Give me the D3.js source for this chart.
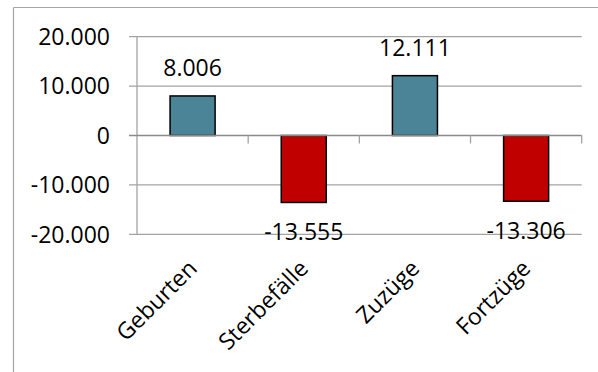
<!DOCTYPE html>
<html><head><meta charset="utf-8">
<script src="https://cdn.jsdelivr.net/npm/d3@7"></script>
<style>body{margin:0;background:#fff}svg{display:block}</style>
</head><body>
<script>
const categories = ["Geburten", "Sterbefälle", "Zuzüge", "Fortzüge"];
const values = [8006, -13555, 12111, -13306];
const valueLabels = ["8.006", "-13.555", "12.111", "-13.306"];
const yTicks = [-20000, -10000, 0, 10000, 20000];
const yTickLabels = ["-20.000", "-10.000", "0", "10.000", "20.000"];

const W = 598, H = 372;
const font = "'Open Sans', sans-serif";
const svg = d3.select("body").append("svg").attr("width", W).attr("height", H);

// outer frame (top + left)
svg.append("line").attr("x1", 13.5).attr("x2", W).attr("y1", 7.5).attr("y2", 7.5).attr("stroke", "#a6a6a6").attr("stroke-width", 1.2);
svg.append("line").attr("x1", 13.5).attr("x2", 13.5).attr("y1", 7.5).attr("y2", H).attr("stroke", "#a6a6a6").attr("stroke-width", 1.2);

const left = 137, right = 581.7;
const x = d3.scaleBand().domain(categories).range([left, right]).paddingInner(0).paddingOuter(0);
const y = d3.scaleLinear().domain([-20000, 20000]).range([234.3, 36.7]);

// gridlines
svg.append("g").selectAll("line").data(yTicks.filter(d => d !== 0)).join("line")
  .attr("x1", left - 8).attr("x2", right)
  .attr("y1", d => y(d)).attr("y2", d => y(d))
  .attr("stroke", "#a3a3a3").attr("stroke-width", 1.3);

// y axis line
svg.append("line").attr("x1", left).attr("x2", left).attr("y1", y(20000)).attr("y2", y(-20000))
  .attr("stroke", "#a3a3a3").attr("stroke-width", 1.3);

// y tick labels
svg.append("g").selectAll("text").data(yTicks).join("text")
  .attr("x", 110).attr("y", d => y(d)).attr("dy", "0.36em")
  .attr("text-anchor", "end").attr("font-family", font).attr("font-size", 23).attr("fill", "#000")
  .text((d, i) => yTickLabels[i]);

// bars
const bw = x.bandwidth() * 0.405;
svg.append("g").selectAll("rect").data(values).join("rect")
  .attr("x", (d, i) => x(categories[i]) + x.bandwidth() / 2 - bw / 2)
  .attr("width", bw)
  .attr("y", d => y(Math.max(0, d)))
  .attr("height", d => Math.abs(y(d) - y(0)))
  .attr("fill", d => d >= 0 ? "#4a8496" : "#c00000")
  .attr("stroke", "#000").attr("stroke-width", 1.5);

// zero axis + category ticks
svg.append("line").attr("x1", left - 8).attr("x2", right).attr("y1", y(0)).attr("y2", y(0))
  .attr("stroke", "#8a8a8a").attr("stroke-width", 1.5);
svg.append("g").selectAll("line").data(categories).join("line")
  .attr("x1", d => x(d) + x.bandwidth()).attr("x2", d => x(d) + x.bandwidth())
  .attr("y1", y(0)).attr("y2", y(0) + 8)
  .attr("stroke", "#a3a3a3").attr("stroke-width", 1.3);

// value labels
svg.append("g").selectAll("text").data(values).join("text")
  .attr("x", (d, i) => x(categories[i]) + x.bandwidth() / 2)
  .attr("y", d => d >= 0 ? y(d) - 19.5 : y(d) + 38)
  .attr("text-anchor", "middle").attr("font-family", font).attr("font-size", 23).attr("fill", "#000")
  .text((d, i) => valueLabels[i]);

// category labels
svg.append("g").selectAll("text").data(categories).join("text")
  .attr("transform", d => `translate(${x(d) + x.bandwidth() / 2},${264}) rotate(-45)`)
  .attr("dy", "0.36em")
  .attr("text-anchor", "end").attr("font-family", font).attr("font-size", 23).attr("fill", "#000")
  .text(d => d);
</script>
</body></html>
